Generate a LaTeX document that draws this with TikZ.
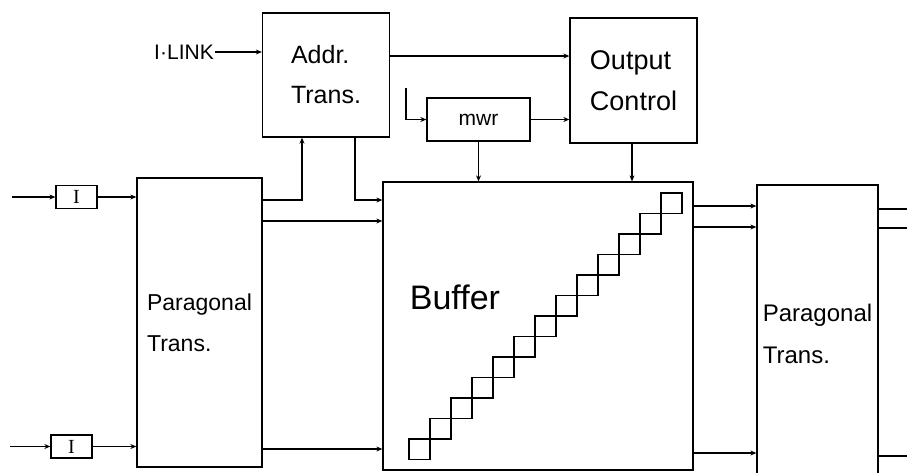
\documentclass[tikz,border=0pt]{standalone}
\usepackage{fontspec}
\setmainfont{Liberation Sans}
\newfontfamily\serifI{Liberation Serif}
\usetikzlibrary{arrows.meta,positioning,calc}
\tikzset{
  blk/.style={draw, line width=1.3pt, inner sep=0pt, align=left,
              font=\fontsize{23}{41}\selectfont},
  inbox/.style={draw, line width=1.3pt, inner sep=0pt,
                minimum width=41pt, minimum height=23pt,
                font=\fontsize{20}{20}\serifI},
  flow/.style={-{Stealth[length=6pt,width=5pt]}, line width=1.3pt},
  wire/.style={line width=1.3pt},
  cell/.style={line width=1.1pt},
}

\begin{document}
\begin{tikzpicture}[x=1pt, y=-1pt]
  \useasboundingbox (0,0) rectangle (907,472);
  \clip (0,0) rectangle (907,472);

  % blocks
  \node[blk, minimum width=127pt, minimum height=124pt, font=\fontsize{25}{40}\selectfont] (addr) at (326,75) {Addr.\\Trans.};
  \node[blk, minimum width=127pt, minimum height=125pt, font=\fontsize{27}{41}\selectfont] (outctl) at (633.5,80.5) {Output\\Control};
  \node[blk, minimum width=103pt, minimum height=43pt, font=\fontsize{21}{21}\selectfont] (mwr) at (478.5,119.5) {mwr};
  \node[blk, minimum width=125pt, minimum height=289pt] (paraL) at (199.5,322.5) {Paragonal\\Trans.};
  \node[draw, line width=1.3pt, minimum width=310pt, minimum height=288pt,
        label={[anchor=west, xshift=24pt, yshift=29pt, font=\fontsize{34}{34}\selectfont]west:Buffer}] (buf) at (538,326) {};
  \node[blk, minimum width=121pt, minimum height=297pt, font=\fontsize{24}{42}\selectfont] (paraR) at (817.5,333.5) {Paragonal\\Trans.};
  \node[inbox] (in1) at (76.5,197) {I};
  \node[inbox] (in2) at (71.5,446.5) {I};
  \node[font=\fontsize{21}{21}\selectfont, inner sep=1pt] (ilink) at (184,52) {I·LINK};

  % free ends
  \coordinate (srcA) at (12,197);
  \coordinate (srcB) at (10,446.5);
  \coordinate (mwrin) at (406,88);

  % staircase of cells in the buffer
  \foreach \i in {0,...,12}
    \draw[cell] (409+21*\i, 439-20.5*\i) rectangle ++(21,20.5);

  % connectors
  \draw[flow] (srcA) -- (in1);
  \draw[flow] (srcB) -- (in2);
  \draw[flow] (in1) -- (in1 -| paraL.west);
  \draw[flow] (in2) -- (in2 -| paraL.west);
  \draw[flow] (ilink.east) -- (ilink.east -| addr.west);
  \draw[flow] (addr.east |- 0,56) -- (outctl.west |- 0,56);
  \draw[flow] (mwrin) |- (mwr.west);
  \draw[flow] (mwr.east) -- (mwr.east -| outctl.west);
  \draw[flow] (mwr.south) -- (mwr.south |- buf.north);
  \draw[flow] ([xshift=-1.5pt]outctl.south) -- ([xshift=-1.5pt]outctl.south |- buf.north);
  \draw[flow] (paraL.east |- 0,200) -| ([xshift=-24pt]addr.south);
  \draw[flow] ([xshift=29pt]addr.south) |- (buf.west |- 0,200);
  \draw[flow] (paraL.east |- 0,221) -- (buf.west |- 0,221);
  \draw[flow] (paraL.east |- 0,449) -- (buf.west |- 0,449);
  \draw[flow] (buf.east |- 0,206) -- (paraR.west |- 0,206);
  \draw[flow] (buf.east |- 0,227) -- (paraR.west |- 0,227);
  \draw[flow] (buf.east |- 0,453) -- (paraR.west |- 0,453);
  \draw[wire] (paraR.east |- 0,209) -- ++(35,0);
  \draw[wire] (paraR.east |- 0,228) -- ++(35,0);
  \draw[wire] (paraR.east |- 0,456) -- ++(35,0);
\end{tikzpicture}
\end{document}
